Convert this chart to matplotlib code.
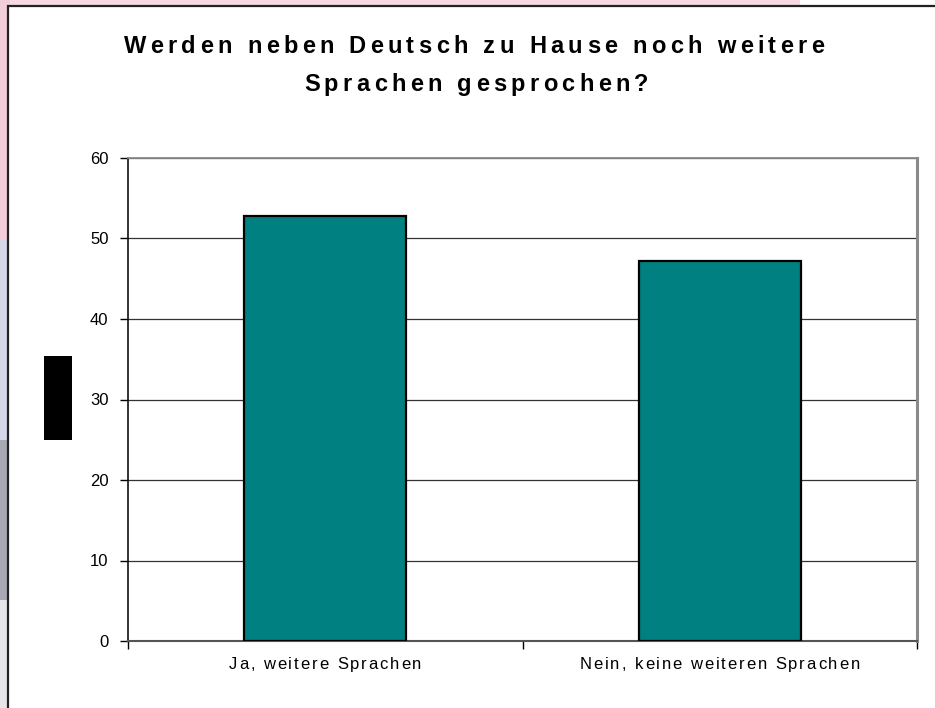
import matplotlib
matplotlib.use('Agg')
import matplotlib.pyplot as plt
from matplotlib.patches import Rectangle
from matplotlib.font_manager import FontProperties

# ---- data ----
categories = ["Ja, weitere Sprachen", "Nein, keine weiteren Sprachen"]
values = [52.8, 47.2]
yticks = [0, 10, 20, 30, 40, 50, 60]
title_lines = ["Werden neben Deutsch zu Hause noch weitere", "Sprachen gesprochen?"]

plt.rcParams['font.family'] = ['Liberation Sans', 'DejaVu Sans']

W, H = 935, 708
fig = plt.figure(figsize=(W / 100, H / 100), dpi=100)
fig.patch.set_facecolor('white')

def frect(x0, y0, w, h, z=-10, **kw):
    """rectangle in pixel coords from top-left"""
    r = Rectangle((x0 / W, 1 - (y0 + h) / H), w / W, h / H,
                  transform=fig.transFigure, zorder=z, **kw)
    fig.add_artist(r)
    return r

# background picture remnants on the left / top
frect(0, 0, 800, 8, color='#f6d9e3', lw=0)
frect(0, 0, 10, 240, color='#f2cdda', lw=0)
frect(0, 240, 10, 200, color='#d6d8ea', lw=0)
frect(0, 440, 10, 160, color='#a8a9b4', lw=0)
frect(0, 600, 10, 108, color='#e6e6ea', lw=0)
# white chart frame
frect(8, 6, 940, 720, z=-5, facecolor='white', edgecolor='#222222', lw=1.6)

# axes
ax = fig.add_axes([128 / W, 1 - 641 / H, (917 - 128) / W, (641 - 158) / H])
x = list(range(len(categories)))
ax.bar(x, values, width=0.41, color='#008080', edgecolor='black',
       linewidth=1.6, zorder=3)
ax.set_xlim(-0.5, len(categories) - 0.5)
ax.set_ylim(0, 60)
ax.set_yticks(yticks)
ax.set_yticklabels([str(v) for v in yticks], fontsize=12)
ax.yaxis.grid(True, color='#333333', lw=0.9)
ax.set_axisbelow(True)
ax.set_facecolor('white')

ax.spines['left'].set_color('#111111')
ax.spines['left'].set_linewidth(1.2)
ax.spines['right'].set_color('#8a8a8a')
ax.spines['right'].set_linewidth(2.2)
ax.spines['top'].set_color('#8a8a8a')
ax.spines['top'].set_linewidth(1.3)
ax.spines['bottom'].set_color('#555555')
ax.spines['bottom'].set_linewidth(1.5)

ax.set_xticks(x)
ax.set_xticklabels([''] * len(categories))
ax.tick_params(axis='x', which='major', length=0)
ax.set_xticks([i - 0.5 for i in range(len(categories) + 1)], minor=True)
ax.tick_params(axis='x', which='minor', length=6, direction='out', color='black', width=1)
ax.tick_params(axis='y', length=6, direction='out', color='black', width=1, pad=8)

# black box (hidden y-axis label)
frect(44, 356, 28, 84, z=5, color='black', lw=0)

# letter-spaced texts
fig.canvas.draw()
renderer = fig.canvas.get_renderer()
prop_title = FontProperties(family='Liberation Sans', weight='bold', size=17)
prop_cat = FontProperties(family='Liberation Sans', size=12)

def width(s, prop):
    w, h, d = renderer.get_text_width_height_descent(s, prop, ismath=False)
    return w

def spaced(s, xc, ybase, spacing, prop):
    ref = width('|', prop)
    pos = [width(s[:i] + '|', prop) - ref + i * spacing for i in range(len(s))]
    total = width(s, prop) + spacing * (len(s) - 1)
    x0 = xc - total / 2
    for ch, p in zip(s, pos):
        if ch == ' ':
            continue
        fig.text((x0 + p) / W, 1 - ybase / H, ch, fontproperties=prop,
                 ha='left', va='baseline', color='black')

spaced(title_lines[0], 474, 53, 4.3, prop_title)
spaced(title_lines[1], 476, 91, 4.3, prop_title)

# category labels centred under each bar (positions from the axis scale)
for i, lab in enumerate(categories):
    xc_px = ax.transData.transform((i, 0))[0]
    spaced(lab, xc_px, 669, 1.9, prop_cat)

fig.savefig('out.png', dpi=100, facecolor='white')
